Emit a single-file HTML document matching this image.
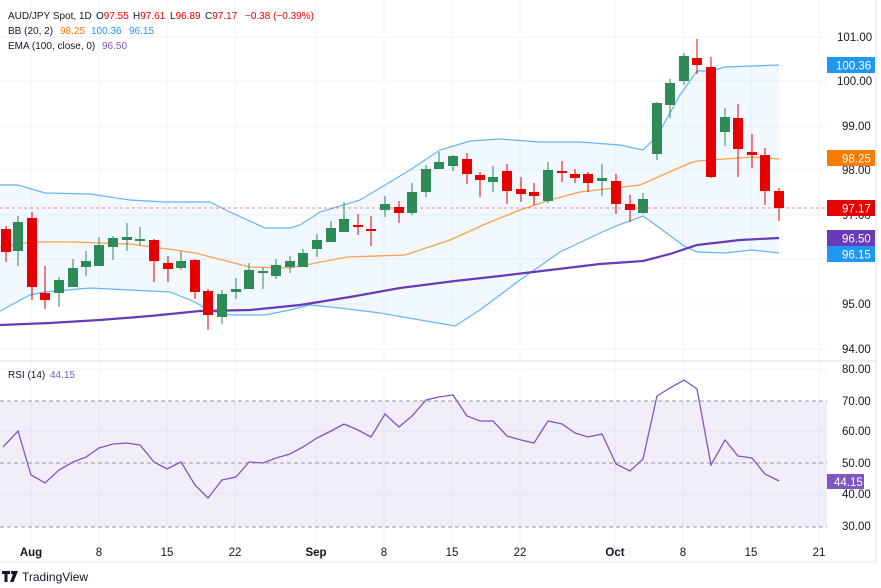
<!DOCTYPE html>
<html><head><meta charset="utf-8"><style>
body{margin:0;background:#fff;}
svg{display:block;font-family:"Liberation Sans",sans-serif;}
text{white-space:pre;}
</style></head><body>
<svg width="881" height="588" viewBox="0 0 881 588" xmlns="http://www.w3.org/2000/svg">
<rect width="881" height="588" fill="#fff"/>
<g stroke="#f0f3fa" stroke-width="1">
<line x1="31" y1="0" x2="31" y2="562"/><line x1="99" y1="0" x2="99" y2="562"/><line x1="167" y1="0" x2="167" y2="562"/><line x1="235" y1="0" x2="235" y2="562"/>
<line x1="316" y1="0" x2="316" y2="562"/><line x1="384" y1="0" x2="384" y2="562"/><line x1="452" y1="0" x2="452" y2="562"/><line x1="520" y1="0" x2="520" y2="562"/>
<line x1="615" y1="0" x2="615" y2="562"/><line x1="683" y1="0" x2="683" y2="562"/><line x1="751" y1="0" x2="751" y2="562"/><line x1="819" y1="0" x2="819" y2="562"/>
<line x1="0" y1="37" x2="827" y2="37"/><line x1="0" y1="81" x2="827" y2="81"/><line x1="0" y1="126" x2="827" y2="126"/><line x1="0" y1="170" x2="827" y2="170"/><line x1="0" y1="215" x2="827" y2="215"/><line x1="0" y1="259" x2="827" y2="259"/><line x1="0" y1="304" x2="827" y2="304"/><line x1="0" y1="349" x2="827" y2="349"/>
<line x1="0" y1="369" x2="827" y2="369"/><line x1="0" y1="431" x2="827" y2="431"/><line x1="0" y1="494" x2="827" y2="494"/>
</g>
<line x1="0" y1="361" x2="876" y2="361" stroke="#e0e3eb"/>
<line x1="0" y1="562" x2="876" y2="562" stroke="#e0e3eb"/>
<line x1="876" y1="0" x2="876" y2="562" stroke="#e0e3eb"/>
<polygon fill="#2196f3" fill-opacity="0.06" points="0,185 18,185 45,193 90,194 130,200 165,202 210,202 230,212 265,228 290,228 300,225 320,212 360,200 380,188 410,170 440,150 470,141 500,139 540,142 580,142 620,145 643,150 657,136 680,95 697,71 711,71 725,67 752,66 779,65 779,253 752,250 725,253 697,252 684,246 657,226 643,216 616,226 600,233 560,252 520,280 480,310 455,326 420,320 380,313 340,308 310,305 290,310 265,315 230,315 208,310 195,302 170,292 130,290 90,288 45,292 30,295 0,311"/>
<polyline fill="none" stroke="#64b5f6" stroke-width="1.2" points="0,185 18,185 45,193 90,194 130,200 165,202 210,202 230,212 265,228 290,228 300,225 320,212 360,200 380,188 410,170 440,150 470,141 500,139 540,142 580,142 620,145 643,150 657,136 680,95 697,71 711,71 725,67 752,66 779,65"/>
<polyline fill="none" stroke="#64b5f6" stroke-width="1.2" points="0,311 30,295 45,292 90,288 130,290 170,292 195,302 208,310 230,315 265,315 290,310 310,305 340,308 380,313 420,320 455,326 480,310 520,280 560,252 600,233 616,226 643,216 657,226 684,246 697,252 725,253 752,250 779,253"/>
<polyline fill="none" stroke="#ff9f4a" stroke-width="1.3" points="0,247 30,242 75,242 130,244 175,250 195,253 230,262 250,267 290,268 347,257 405,255 450,240 490,222 520,210 550,200 580,192 640,185 690,163 697,161 752,157 779,159"/>
<polyline fill="none" stroke="#673ab7" stroke-width="2.2" points="0,325 50,323 100,320 150,316 200,311 250,310 300,305 350,297 400,288 455,281 500,276 550,270 600,264 643,261 670,254 697,245 740,240 779,238"/>
<line x1="0" y1="208" x2="827" y2="208" stroke="#f23645" stroke-dasharray="3,3" stroke-opacity="0.6"/>
<g id="c"></g>
<rect x="0" y="401" width="827" height="126" fill="#7e57c2" fill-opacity="0.1"/>
<g stroke="#9598a1" stroke-dasharray="4,3" stroke-width="1"><line x1="0" y1="401" x2="827" y2="401"/><line x1="0" y1="463" x2="827" y2="463"/><line x1="0" y1="527" x2="827" y2="527"/></g>
<polyline fill="none" stroke="#7e57c2" stroke-width="1.3" points="3,447 18,431 31,475 45,483 59,470 73,462 86,457 99,448 113,444 127,443 140,445 154,462 167,469 181,462 195,485 208,498 222,480 236,477 249,462 263,463 276,458 290,454 303,447 317,438 331,431 344,424 358,430 371,437 385,414 399,427 412,416 426,400 439,397 453,395 467,416 480,421 493,421 507,436 521,440 534,443 548,421 562,424 575,433 588,437 602,434 616,464 630,471 643,459 657,396 670,388 684,380 697,389 711,465 725,440 738,456 752,458 765,474 779,481"/>
<g font-size="11.5" fill="#131722">
<text x="837" y="41">101.00</text><text x="837" y="85">100.00</text><text x="842" y="130">99.00</text><text x="842" y="174">98.00</text><text x="842" y="219">97.00</text><text x="842" y="308">95.00</text><text x="842" y="353">94.00</text>
<text x="842" y="373">80.00</text><text x="842" y="405">70.00</text><text x="842" y="435">60.00</text><text x="842" y="467">50.00</text><text x="842" y="498">40.00</text><text x="842" y="530">30.00</text>
</g>
<g font-size="11.5" fill="#fff">
<rect x="827" y="57" width="48" height="16" fill="#2196f3"/><text x="836" y="69.5">100.36</text>
<rect x="827" y="150" width="48" height="16" fill="#f57c00"/><text x="842" y="162.5">98.25</text>
<rect x="827" y="200" width="48" height="16" fill="#e60000"/><text x="842" y="212.5">97.17</text>
<rect x="827" y="230" width="48" height="16" fill="#673ab7"/><text x="842" y="242.5">96.50</text>
<rect x="827" y="246" width="48" height="16" fill="#2196f3"/><text x="842" y="258.5">96.15</text>
<rect x="827" y="474" width="37" height="15" fill="#7e57c2"/><text x="834" y="486">44.15</text>
</g>
<g font-size="11.5" fill="#131722" text-anchor="middle">
<text x="31" y="556" font-weight="bold">Aug</text><text x="99" y="556">8</text><text x="167" y="556">15</text><text x="235" y="556">22</text>
<text x="316" y="556" font-weight="bold">Sep</text><text x="384" y="556">8</text><text x="452" y="556">15</text><text x="520" y="556">22</text>
<text x="615" y="556" font-weight="bold">Oct</text><text x="683" y="556">8</text><text x="751" y="556">15</text><text x="819" y="556">21</text>
</g>
<g font-size="10" fill="#131722">
<text x="8" y="19">AUD/JPY Spot, 1D</text>
<text x="96" y="19">O<tspan fill="#e60000">97.55</tspan></text>
<text x="133" y="19">H<tspan fill="#e60000">97.61</tspan></text>
<text x="170" y="19">L<tspan fill="#e60000">96.89</tspan></text>
<text x="205" y="19">C<tspan fill="#e60000">97.17</tspan></text>
<text x="245" y="19" fill="#e60000">−0.38 (−0.39%)</text>
<text x="8" y="34">BB (20, 2)</text>
<text x="60" y="34" fill="#f57c00">98.25</text>
<text x="91" y="34" fill="#2196f3">100.36</text>
<text x="129" y="34" fill="#2196f3">96.15</text>
<text x="8" y="49">EMA (100, close, 0)</text>
<text x="102" y="49" fill="#7e57c2">96.50</text>
<text x="8" y="378">RSI (14)</text>
<text x="50" y="378" fill="#7e57c2">44.15</text>
</g>
<g fill="#131722"><path d="M2,571h8v3h-2.5v8h-3v-8h-2.5z"/><circle cx="12.5" cy="572.5" r="1.6"/><path d="M14,571h4l-4.5,11h-3.5z"/></g>
<text x="22" y="581" font-size="12" fill="#131722">TradingView</text>
</svg>
<script>
var d=[[6,229,252,226,262],[18,251,222,216,266],[32,218,287,212,300],[45,293,300,266,309],[59,293,280,277,307],[73,287,268,259,287],[86,267,261,251,276],[99,266,245,237,266],[113,247,238,236,260],[127,240,237,223,251],[140,240,239,227,246],[154,240,261,239,282],[168,263,269,256,282],[181,268,261,251,270],[195,260,292,259,299],[208,291,315,289,330],[222,317,294,290,324],[236,292,289,278,299],[249,289,270,263,289],[263,272,271,267,289],[276,276,265,259,279],[290,267,261,256,273],[303,267,253,249,267],[317,249,240,234,257],[331,242,228,221,242],[344,232,219,202,232],[358,225,226,214,235],[371,229,231,216,246],[385,210,204,196,217],[399,207,213,201,223],[412,213,192,183,215],[426,192,169,165,197],[439,169,162,152,169],[453,166,156,155,171],[467,159,174,153,184],[480,175,180,172,197],[493,182,177,166,192],[507,171,191,164,204],[521,189,194,177,202],[534,192,196,183,205],[548,201,170,162,203],[562,171,173,161,182],[575,174,178,169,183],[588,174,183,172,192],[602,181,178,164,196],[616,181,204,174,214],[630,204,210,195,222],[643,213,199,193,214],[657,154,103,102,160],[670,105,83,79,118],[684,81,56,53,85],[697,58,65,39,74],[711,67,177,57,178],[725,132,117,108,146],[738,118,149,104,177],[752,152,155,134,168],[765,155,191,148,205],[779,191,208,188,221]];
var s='';d.forEach(function(c){var up=c[2]<c[1],col=up?'#2e8b57':'#e60000',t=Math.min(c[1],c[2]),h=Math.max(2,Math.abs(c[2]-c[1]));
s+='<line x1="'+c[0]+'" y1="'+c[3]+'" x2="'+c[0]+'" y2="'+c[4]+'" stroke="'+col+'" stroke-width="1"/>';
s+='<rect x="'+(c[0]-5)+'" y="'+t+'" width="10" height="'+h+'" fill="'+col+'"/>';});
document.getElementById('c').innerHTML=s;
</script>
</body></html>
